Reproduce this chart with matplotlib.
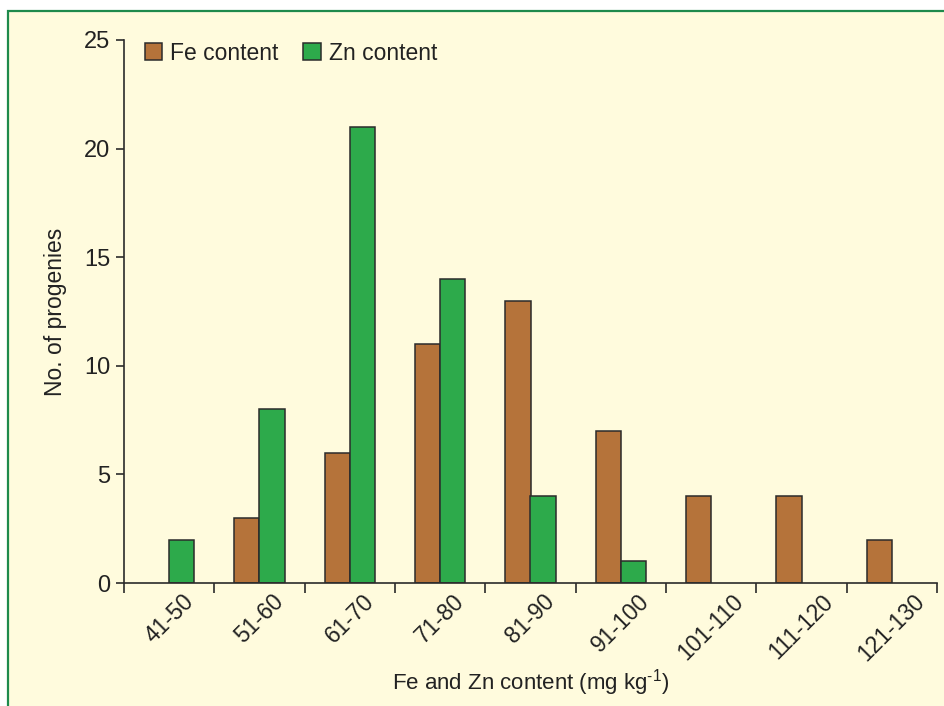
import matplotlib.pyplot as plt
import numpy as np
from matplotlib.patches import Rectangle

# data
categories = ['41-50', '51-60', '61-70', '71-80', '81-90', '91-100',
              '101-110', '111-120', '121-130']
fe_content = [0, 3, 6, 11, 13, 7, 4, 4, 2]
zn_content = [2, 8, 21, 14, 4, 1, 0, 0, 0]

plt.rcParams['font.family'] = ['Liberation Sans', 'DejaVu Sans']
plt.rcParams['mathtext.fontset'] = 'custom'
plt.rcParams['mathtext.rm'] = 'Liberation Sans'

bg = '#FFFBDD'
fe_color = '#B5733A'
zn_color = '#2DAA4B'
edge = '#2B2B2B'
txt = '#222222'

fig = plt.figure(figsize=(9.45, 7.06), dpi=100, facecolor='white')
# cream panel with green frame (top and left visible)
fig.patches.append(Rectangle((8 / 945, -0.05), 1.1, 1 - 11 / 706 + 0.05,
                             transform=fig.transFigure, facecolor=bg,
                             edgecolor='#1E8A4C', lw=1.6, zorder=-5))

ax = fig.add_axes([124 / 945, 1 - 583 / 706, 813 / 945, 543 / 706])
ax.set_facecolor('none')

x = np.arange(len(categories))
w = 0.28
fe_vals = np.array(fe_content, dtype=float)
zn_vals = np.array(zn_content, dtype=float)
fe_mask = fe_vals > 0
zn_mask = zn_vals > 0
ax.bar(x[fe_mask] - w / 2, fe_vals[fe_mask], w, color=fe_color,
       edgecolor=edge, linewidth=1.1, label='Fe content')
ax.bar(x[zn_mask] + w / 2, zn_vals[zn_mask], w, color=zn_color,
       edgecolor=edge, linewidth=1.1, label='Zn content')

ax.set_xlim(-0.5, len(categories) - 0.5)
ax.set_ylim(0, 25)
ax.set_yticks(range(0, 26, 5))

# ticks at category boundaries, labels at centres
ax.set_xticks(np.arange(-0.5, len(categories), 1.0))
ax.set_xticklabels([])
ax.set_xticks(x, minor=True)
ax.set_xticklabels(categories, minor=True, rotation=45, ha='center',
                   fontsize=16.5, color=txt)
ax.tick_params(axis='x', which='minor', length=0, pad=5)
ax.tick_params(axis='x', which='major', length=7, width=1.2, color=edge,
               direction='out')
ax.tick_params(axis='y', length=6, width=1.2, color=edge, labelsize=17,
               labelcolor=txt, pad=4)

for s in ['top', 'right']:
    ax.spines[s].set_visible(False)
for s in ['left', 'bottom']:
    ax.spines[s].set_color(edge)
    ax.spines[s].set_linewidth(1.2)

ax.set_ylabel('No. of progenies', fontsize=16.5, color=txt, labelpad=12)
ax.set_xlabel(r'Fe and Zn content (mg kg$^{\text{-1}}$)', fontsize=16,
              color=txt, labelpad=1)

ax.legend(loc='upper left', bbox_to_anchor=(0.0, 1.035), ncol=2, frameon=False,
          fontsize=16.5, handlelength=0.75, handleheight=0.75, handletextpad=0.35,
          columnspacing=1.1, labelcolor=txt)

fig.savefig('out.png', dpi=100, facecolor=fig.get_facecolor())
